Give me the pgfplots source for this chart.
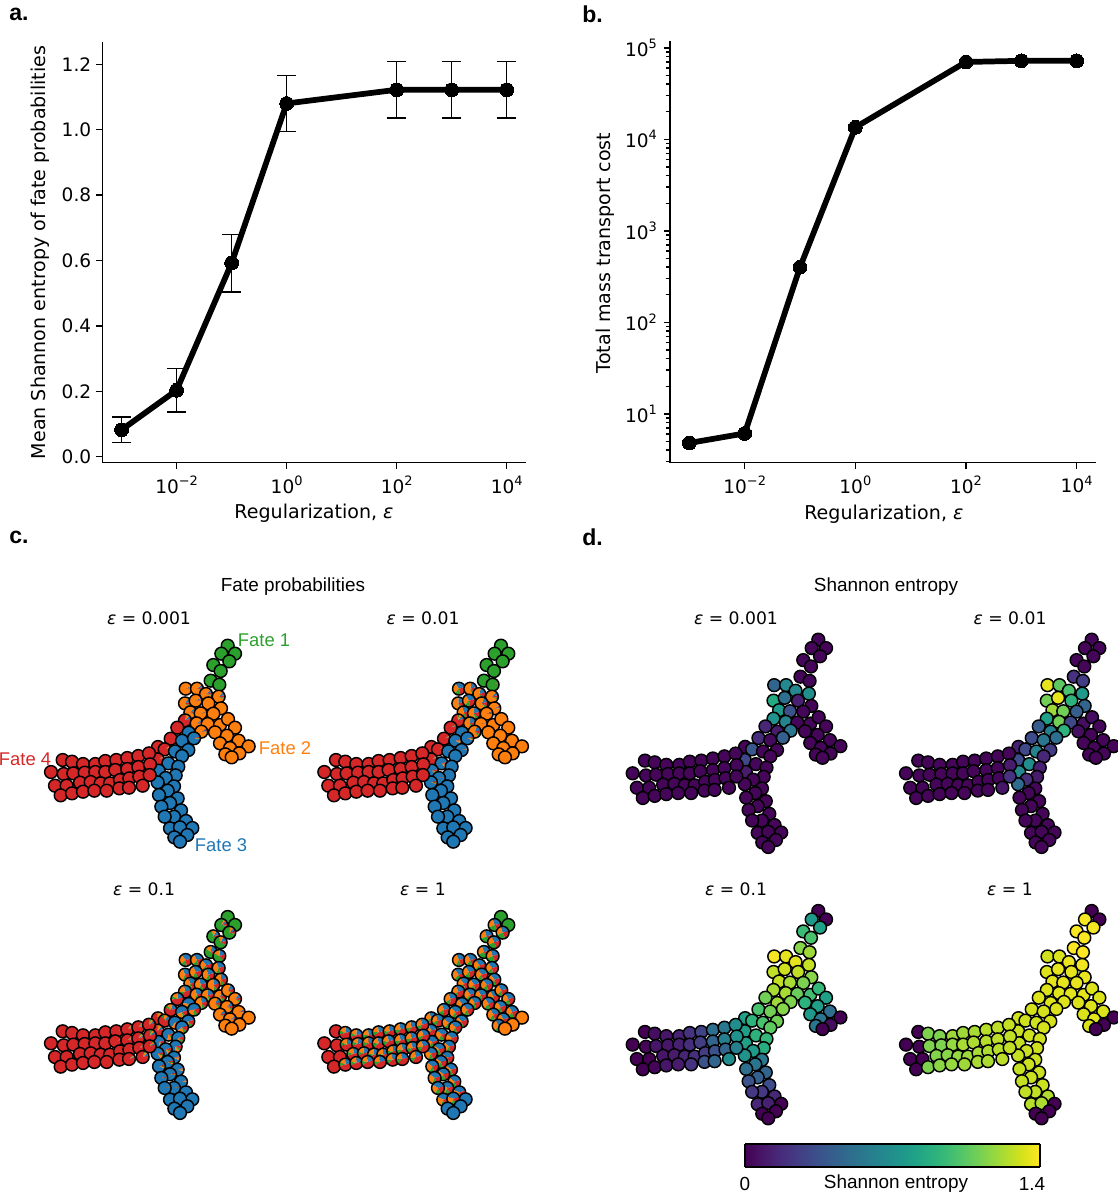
\documentclass[border=0pt]{standalone}
\usepackage{fontspec}
\usepackage{pgfplots}
\usepackage{pgfplotstable}
\pgfplotsset{compat=1.18}
\setmainfont{DejaVu Sans}
\newfontfamily\arial{Liberation Sans}
\def\u{0.75pt}

\definecolor{fategreen}{HTML}{2CA02C}
\definecolor{fateorange}{HTML}{FF7F0E}
\definecolor{fateblue}{HTML}{1F77B4}
\definecolor{faterred}{HTML}{D62728}

% layout of the graph, dominant fate and entropy at each regularization
\pgfplotstableread{
x y f e1 e2 e3 e4
683 77 1 0.02 0.02 0.00 0.00
664 101 1 0.02 0.02 0.75 1.38
705 101 1 0.02 0.02 0.00 0.00
688 124 1 0.02 0.02 0.80 1.38
640 135 1 0.02 0.02 0.95 1.39
662 153 1 0.02 0.02 1.00 1.39
632 182 1 0.02 0.20 1.15 1.40
658 194 1 0.02 0.25 1.20 1.40
557 206 2 0.45 1.35 1.38 1.30
591 206 2 0.65 1.05 1.35 1.32
618 222 2 0.65 1.00 1.35 1.36
656 230 2 0.70 0.75 1.28 1.37
555 250 2 0.85 1.10 1.27 1.33
587 242 2 0.50 1.35 1.30 1.35
625 250 2 0.12 0.90 1.27 1.35
663 265 2 0.02 0.45 1.15 1.36
571 277 2 0.75 1.20 1.28 1.34
602 280 2 0.35 1.10 1.22 1.35
640 281 2 0.02 0.42 1.12 1.35
555 301 4 0.72 0.80 1.22 1.33
590 310 2 0.62 1.10 1.22 1.34
623 312 2 0.02 0.30 1.08 1.34
660 315 2 0.02 0.05 0.98 1.34
684 297 2 0.02 0.05 0.93 1.33
705 323 2 0.02 0.02 0.80 1.33
532 323 4 0.15 0.40 1.10 1.33
566 338 3 0.10 0.60 1.20 1.33
604 335 2 0.55 0.90 1.13 1.33
645 337 2 0.02 0.05 0.90 1.33
681 347 2 0.02 0.02 0.78 1.33
512 356 4 0.18 0.32 1.00 1.31
546 362 3 0.03 0.55 1.10 1.31
582 355 3 0.42 0.50 1.15 1.32
660 370 2 0.02 0.02 0.75 1.32
716 362 2 0.02 0.02 0.50 1.32
746 379 2 0.02 0.02 0.00 0.00
690 384 2 0.02 0.02 0.55 1.34
718 400 2 0.02 0.02 0.05 0.00
676 403 2 0.02 0.02 0.55 1.32
695 412 2 0.02 0.02 0.00 0.00
474 381 4 0.02 0.12 0.80 1.30
494 388 4 0.38 0.30 0.90 1.30
525 394 3 0.02 0.62 1.00 1.30
565 390 3 0.02 0.25 1.10 1.31
473 418 4 0.30 0.32 0.78 1.29
546 408 3 0.02 0.15 1.05 1.31
505 430 3 0.02 0.68 0.90 1.30
535 440 3 0.02 0.12 0.93 1.30
476 452 3 0.10 0.65 0.80 1.28
527 466 3 0.02 0.10 0.87 1.30
497 474 3 0.02 0.18 0.75 1.29
473 487 3 0.02 0.48 0.72 1.28
522 499 3 0.02 0.02 0.55 1.29
503 512 3 0.02 0.02 0.55 1.29
477 525 3 0.02 0.02 0.50 1.28
533 535 3 0.02 0.02 0.45 1.29
510 549 3 0.02 0.02 0.42 1.29
484 560 3 0.02 0.02 0.35 1.28
543 571 3 0.02 0.02 0.32 1.29
522 590 3 0.02 0.02 0.22 1.27
494 590 3 0.02 0.02 0.22 1.27
558 603 3 0.02 0.02 0.15 1.24
510 625 3 0.02 0.02 0.15 1.25
577 624 3 0.02 0.02 0.00 0.00
540 622 3 0.02 0.02 0.12 1.23
523 652 3 0.02 0.02 0.00 0.00
562 645 3 0.02 0.02 0.00 0.00
540 665 3 0.02 0.02 0.00 0.00
188 420 4 0.02 0.02 0.00 0.00
216 425 4 0.02 0.02 0.05 1.13
249 432 4 0.02 0.02 0.08 1.13
286 432 4 0.02 0.02 0.12 1.20
316 423 4 0.02 0.02 0.20 1.20
349 420 4 0.02 0.02 0.28 1.22
382 414 4 0.02 0.02 0.50 1.25
415 408 4 0.02 0.02 0.55 1.26
447 400 4 0.02 0.02 0.68 1.28
153 456 4 0.02 0.02 0.00 0.00
191 462 4 0.02 0.02 0.02 0.00
220 460 4 0.02 0.02 0.08 1.13
254 458 4 0.02 0.02 0.08 1.13
286 456 4 0.02 0.02 0.12 1.18
316 456 4 0.02 0.02 0.18 1.22
346 450 4 0.02 0.02 0.25 1.23
382 447 4 0.02 0.02 0.45 1.25
415 441 4 0.02 0.02 0.60 1.26
450 433 4 0.02 0.10 0.72 1.27
165 497 4 0.02 0.02 0.00 0.00
200 497 4 0.02 0.02 0.00 0.00
240 488 4 0.02 0.02 0.08 1.14
272 486 4 0.02 0.02 0.10 1.15
302 490 4 0.02 0.02 0.14 1.18
330 490 4 0.02 0.02 0.18 1.20
360 480 4 0.02 0.02 0.25 1.22
388 475 4 0.02 0.02 0.35 1.23
418 470 4 0.02 0.02 0.45 1.25
449 465 4 0.02 0.20 0.60 1.27
182 526 4 0.02 0.02 0.00 0.00
216 520 4 0.02 0.02 0.02 1.13
249 515 4 0.02 0.02 0.08 1.16
283 512 4 0.02 0.02 0.10 1.18
320 512 4 0.02 0.02 0.20 1.20
358 505 4 0.02 0.02 0.35 1.22
387 503 4 0.02 0.02 0.45 1.23
428 497 4 0.02 0.08 0.68 1.26
}\graphtable

\newcommand\pieslice[3]{%
  \pgfmathsetmacro\share{\fate==#2 ? 1-\mixv : \ms*#3}%
  \pgfmathsetmacro\pieend{\piestart+360*\share}%
  \pgfmathparse{\share>0.004 ? 1 : 0}%
  \ifdim\pgfmathresult pt>0.5pt
    \pgfsetfillcolor{#1}%
    \pgfpathmoveto{\pgfqpoint{0pt}{0pt}}%
    \pgfpathlineto{\pgfpointpolar{\piestart}{\pgfplotmarksize}}%
    \pgfpatharc{\piestart}{\pieend}{\pgfplotmarksize}%
    \pgfpathclose
    \pgfusepath{fill}%
  \fi
  \let\piestart\pieend
}
\pgfdeclareplotmark{fatepie}{%
  \pgfmathsetmacro\mixv{min(0.75,0.39*\ent*\ent)}%
  \pgfmathsetmacro\wf{{0.15,0.3,0.3,0.25}[int(\fate-1)]}%
  \pgfmathsetmacro\ms{\mixv/(1-\wf)}%
  \def\piestart{15}%
  \pieslice{fateblue}{3}{0.3}%
  \pieslice{fateorange}{2}{0.3}%
  \pieslice{fategreen}{1}{0.15}%
  \pieslice{faterred}{4}{0.25}%
  \pgfsetstrokecolor{black}%
  \pgfpathcircle{\pgfqpoint{0pt}{0pt}}{\pgfplotmarksize}%
  \pgfusepath{stroke}%
}

\pgfplotsset{
  regaxis/.style={
    scale only axis, axis x line*=bottom, axis y line*=left,
    axis line style={line width=1.1pt,-},
    tick align=outside, tick style={black,line width=1.1pt},
    major tick length=4.8pt, minor tick length=2.8pt,
    xmin=4.467e-4, xmax=22387,
    xtick={1e-2,1,1e2,1e4},
    xticklabels={\tp{−2},\tp{0},\tp{2},\tp{4}},
    every tick label/.append style={font=\fontsize{13.9}{16}\selectfont},
    xticklabel style={yshift=-1.5pt},
    xlabel={Regularization, {\itshape ε}},
    clip=false,
  },
  thickline/.style={black,line width=4.3pt,mark=*,mark size=5.2pt,mark options={solid,line width=0pt}},
  panel/.style={
    hide axis, scale only axis, clip=false, y dir=reverse,
    xmin=0, xmax=960, ymin=0, ymax=720,
    anchor=north west,
  },
  fatepanel/.style={panel, width=320*\u, height=240*\u},
  entpanel/.style={panel, width=336.3*\u, height=253.9*\u,
    colormap/viridis, point meta min=0, point meta max=1.4},
  fatemarks/.style={
    scatter, only marks, mark=fatepie, mark size=4.8pt, line width=1.1pt,
    visualization depends on={\thisrow{f} \as \fate},
    visualization depends on={\thisrow{#1} \as \ent},
  },
  entmarks/.style={
    scatter, only marks, mark=*, mark size=4.8pt,
    scatter/use mapped color={draw=black,fill=mapped color},
    mark options={line width=1.1pt},
    point meta=\thisrow{#1},
  },
}
\newcommand\tp[1]{10\raisebox{0.42em}{\fontsize{9.7}{10}\selectfont #1}}
\newcommand\epsl[1]{{\fontsize{12.9}{15}\selectfont{\itshape ε} = #1}}
\newcommand\lblfont{\fontsize{14.3}{17}\selectfont}
\newcommand\panelfont{\arial\bfseries\fontsize{17.3}{20}\selectfont}
\newcommand\ttlfont{\arial\fontsize{14.2}{17}\selectfont}

\begin{document}
\begin{tikzpicture}
\useasboundingbox (0,0) rectangle (1118*\u,-1197*\u);

% panel a
\begin{axis}[xmode=log, log basis x=10, regaxis, at={(102.3*\u,-462.7*\u)}, width=423.7*\u, height=420.7*\u,
  ymin=-0.0185, ymax=1.268,
  ytick={0,0.2,0.4,0.6,0.8,1.0,1.2},
  yticklabels={0.0,0.2,0.4,0.6,0.8,1.0,1.2},
  ylabel={Mean Shannon entropy of fate probabilities},
  every axis y label/.style={at={(axis description cs:-0.147,0.4997)},rotate=90,anchor=center,font=\lblfont},
  every axis x label/.style={at={(axis description cs:0.4996,-0.121)},anchor=center,font=\lblfont},
]
\addplot[thickline,
  error bars/.cd, y dir=both, y explicit,
  error bar style={line width=1.1pt,solid},
  error mark options={rotate=90,mark size=7.1pt,line width=1.1pt},
] coordinates {
  (0.001,0.082) +- (0,0.039)
  (0.01,0.203) +- (0,0.067)
  (0.1,0.592) +- (0,0.088)
  (1,1.08) +- (0,0.085)
  (100,1.122) +- (0,0.087)
  (1000,1.122) +- (0,0.087)
  (10000,1.122) +- (0,0.087)
};
\end{axis}

% panel b
\begin{axis}[xmode=log, log basis x=10, ymode=log, log basis y=10, regaxis, at={(670*\u,-462.7*\u)}, width=426*\u, height=422*\u,
  ymin=2.92, ymax=119500,
  ytick={10,100,1000,10000,100000},
  yticklabels={\tp{1},\tp{2},\tp{3},\tp{4},\tp{5}},
  yticklabel style={xshift=-1.5pt},
  minor ytick={3,4,5,6,7,8,9,20,30,40,50,60,70,80,90,200,300,400,500,600,700,800,900,
    2000,3000,4000,5000,6000,7000,8000,9000,20000,30000,40000,50000,60000,70000,80000,90000},
  ylabel={Total mass transport cost},
  every axis y label/.style={at={(axis description cs:-0.153,0.497)},rotate=90,anchor=center,font=\lblfont},
  every axis x label/.style={at={(axis description cs:0.502,-0.123)},anchor=center,font=\lblfont},
]
\addplot[thickline] coordinates {
  (0.001,4.8) (0.01,6.1) (0.1,400) (1,13500) (100,70000) (1000,72000) (10000,72000)
};
\end{axis}

% panel c
\begin{axis}[fatepanel, at={(0*\u,-620*\u)}]
\addplot[fatemarks=e1] table[x=x,y=y] {\graphtable};
\end{axis}
\begin{axis}[fatepanel, at={(273.3*\u,-620*\u)}]
\addplot[fatemarks=e2] table[x=x,y=y] {\graphtable};
\end{axis}
\begin{axis}[fatepanel, at={(0*\u,-891.3*\u)}]
\addplot[fatemarks=e3] table[x=x,y=y] {\graphtable};
\end{axis}
\begin{axis}[fatepanel, at={(273.3*\u,-891.3*\u)}]
\addplot[fatemarks=e4] table[x=x,y=y] {\graphtable};
\end{axis}

% panel d
\begin{axis}[entpanel, at={(579.07*\u,-612.5*\u)}]
\addplot[entmarks=e1] table[x=x,y=y] {\graphtable};
\end{axis}
\begin{axis}[entpanel, at={(852.4*\u,-612.5*\u)}]
\addplot[entmarks=e2] table[x=x,y=y] {\graphtable};
\end{axis}
\begin{axis}[entpanel, at={(579.07*\u,-883.8*\u)}]
\addplot[entmarks=e3] table[x=x,y=y] {\graphtable};
\end{axis}
\begin{axis}[entpanel, at={(852.4*\u,-883.8*\u)}]
\addplot[entmarks=e4] table[x=x,y=y] {\graphtable};
\end{axis}

% colour bar
\begin{axis}[at={(745*\u,-1167*\u)}, anchor=south west, scale only axis,
  width=295*\u, height=23*\u, view={0}{90},
  xmin=0, xmax=1.4, ymin=0, ymax=1,
  xtick=\empty, ytick=\empty, axis on top,
  axis line style={line width=2.2pt},
  colormap/viridis, point meta min=0, point meta max=1.4]
\addplot3[surf, shader=interp, point meta=x] table {
0 0 0
0.7 0 0
1.4 0 0

0 1 0
0.7 1 0
1.4 1 0
};
\end{axis}

% texts
\node[anchor=west,inner sep=0pt,font=\panelfont] at (9*\u,-14*\u) {a.};
\node[anchor=west,inner sep=0pt,font=\panelfont] at (582*\u,-14*\u) {b.};
\node[anchor=west,inner sep=0pt,font=\panelfont] at (9*\u,-537*\u) {c.};
\node[anchor=west,inner sep=0pt,font=\panelfont] at (582*\u,-537*\u) {d.};
\node[font=\ttlfont] at (293*\u,-587*\u) {Fate probabilities};
\node[font=\ttlfont] at (886*\u,-587*\u) {Shannon entropy};
\node at (149*\u,-618*\u) {\epsl{0.001}};
\node at (423*\u,-618*\u) {\epsl{0.01}};
\node at (144*\u,-889*\u) {\epsl{0.1}};
\node at (423*\u,-889*\u) {\epsl{1}};
\node at (736*\u,-618*\u) {\epsl{0.001}};
\node at (1010*\u,-618*\u) {\epsl{0.01}};
\node at (736*\u,-889*\u) {\epsl{0.1}};
\node at (1010*\u,-889*\u) {\epsl{1}};
\node[font=\arial\fontsize{13.8}{16}\selectfont,text=fategreen] at (264*\u,-640*\u) {Fate 1};
\node[font=\arial\fontsize{13.8}{16}\selectfont,text=fateorange] at (285*\u,-748*\u) {Fate 2};
\node[font=\arial\fontsize{13.8}{16}\selectfont,text=fateblue] at (221*\u,-845*\u) {Fate 3};
\node[font=\arial\fontsize{13.8}{16}\selectfont,text=faterred] at (25*\u,-759*\u) {Fate 4};
\node[font=\ttlfont] at (745*\u,-1184*\u) {0};
\node[font=\ttlfont] at (896*\u,-1184*\u) {Shannon entropy};
\node[font=\ttlfont] at (1032*\u,-1184*\u) {1.4};
\end{tikzpicture}
\end{document}
